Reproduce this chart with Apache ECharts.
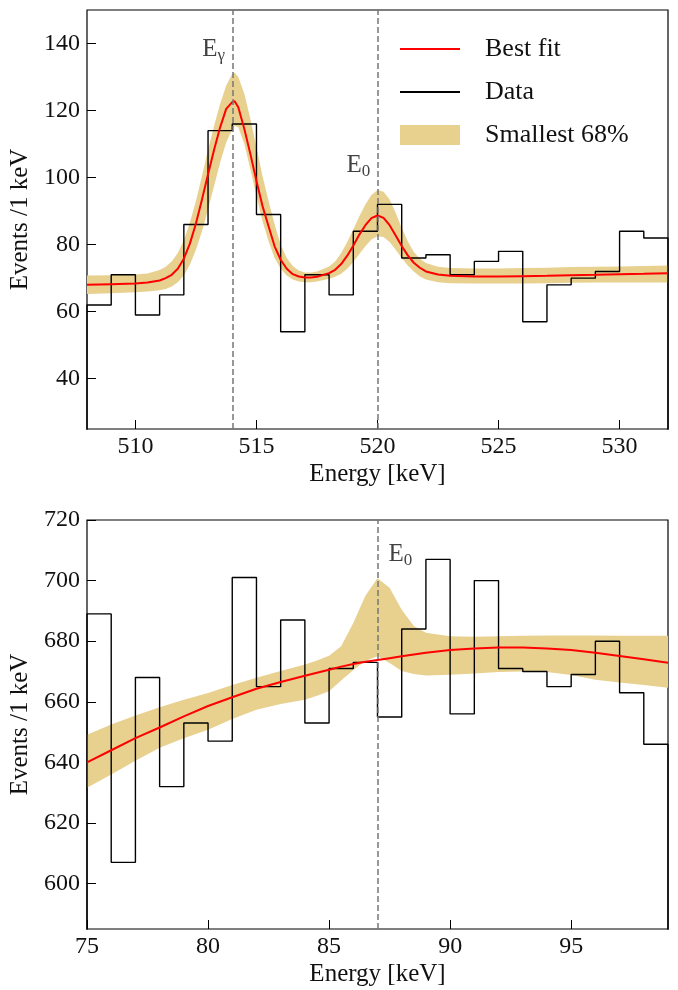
<!DOCTYPE html>
<html><head><meta charset="utf-8">
<script src="https://cdn.jsdelivr.net/npm/echarts@6/dist/echarts.min.js"></script>
<style>html,body{margin:0;padding:0;background:#fff}#c{width:678px;height:990px}</style>
</head><body><div id="c"></div>
<script>
// ---------- Top panel (508-532 keV) ----------
const topBinStart = 508;
const topCounts = [62,71,59,65,86,114,116,89,54,71,65,84,92,76,77,71,75,78,57,68,70,72,84,82];
const topFitE  = [508,509,510,510.5,511,511.25,511.5,511.75,512,512.25,512.5,512.75,513,513.25,513.5,513.75,514,514.1,514.25,514.5,514.75,515,515.25,515.5,515.75,516,516.25,516.5,516.75,517,517.25,517.5,518,518.25,518.5,518.75,519,519.25,519.5,519.75,520,520.25,520.5,520.75,521,521.25,521.5,521.75,522,522.5,523,524,525,526,527,528,529,530,531,532];
const topFitY  = [68.0,68.2,68.4,68.7,69.3,70.0,71.0,72.8,75.8,80.3,86.3,93.5,101.0,108.3,115.0,120.5,122.5,122.8,121.0,114.5,107.0,99.0,91.5,85.5,79.5,75.5,72.8,71.2,70.5,70.2,70.2,70.4,71.5,72.5,74.2,76.7,79.7,83.0,85.8,87.9,88.7,88.0,85.8,82.7,79.6,76.8,74.6,73.1,72.0,71.1,70.7,70.5,70.5,70.6,70.7,70.9,71.0,71.2,71.3,71.5];
const topBandLo= [65.3,65.5,65.8,66.0,66.4,66.8,67.5,68.8,70.8,74.0,78.5,84.0,90.5,97.5,104.5,110.5,114.5,115.5,115.0,110.0,102.5,94.5,87.0,81.0,76.0,72.8,70.8,69.6,69.0,68.8,68.8,69.0,69.8,70.4,71.3,72.8,74.8,77.2,79.5,81.5,82.5,82.3,80.8,78.5,76.0,73.8,72.0,70.5,69.6,68.8,68.5,68.4,68.4,68.4,68.5,68.6,68.7,68.7,68.7,68.7];
const topBandHi= [70.8,70.9,71.1,71.4,72.4,73.4,75.0,77.5,81.3,86.5,93.0,100.5,108.3,115.5,122.0,127.5,131.0,131.3,130.0,125.0,117.5,109.0,100.5,93.0,86.0,80.0,76.0,73.6,72.3,71.7,71.7,72.0,73.5,75.0,77.5,80.8,84.5,88.5,92.0,94.8,96.3,95.8,93.5,89.5,85.0,81.0,77.8,75.8,74.5,73.4,73.0,72.9,72.9,73.0,73.1,73.3,73.4,73.5,73.6,73.8];
const topLines = [514, 520];
const topXTicks = [510,515,520,525,530];
const topYTicks = [40,60,80,100,120,140];

// ---------- Bottom panel (75-99 keV) ----------
const botBinStart = 75;
const botCounts = [689,607,668,632,653,647,701,665,687,653,671,673,655,684,707,656,700,671,670,665,669,680,663,646];
const botFitE  = [75,76,77,78,79,80,81,82,83,84,84.5,85,85.5,86,86.5,87,87.5,88,88.5,89,90,91,92,93,94,95,96,97,98,99];
const botFitY  = [640.0,644.0,648.0,651.5,655.2,658.6,661.5,664.3,666.5,668.6,669.6,670.6,671.6,672.5,673.2,673.8,674.4,675.0,675.6,676.2,677.1,677.6,677.9,677.9,677.6,677.1,676.2,675.1,674.0,672.9];
const botBandLo= [631.6,636.0,640.5,644.8,648.0,650.8,654.3,657.4,659.3,660.7,662.0,663.5,667.0,670.5,673.5,675.0,672.8,670.2,669.2,668.7,668.9,669.3,669.8,670.0,669.8,668.8,667.3,666.4,665.5,664.6];
const botBandHi= [649.1,652.5,655.5,658.2,660.7,662.9,665.5,667.9,670.2,672.3,673.6,675.2,678.3,686.0,695.0,700.8,697.6,690.4,685.0,682.8,681.6,681.5,681.6,681.8,681.9,681.9,681.9,681.8,681.8,681.8];
const botLines = [87];
const botXTicks = [75,80,85,90,95];
const botYTicks = [600,620,640,660,680,700,720];

// ---------- Annotations ----------
const topLabels = [{x:513.7, y:138.3, main:'E', sub:'γ', pos:'left'},{x:519.7, y:103.5, main:'E', sub:'0', pos:'left'}];
const botLabels = [{x:87.45, y:708.6, main:'E', sub:'0', pos:'right'}];

const FONT = 'Liberation Serif';
const BAND = '#E8D08F';

function stepData(start, counts){
  const d=[[start,0]];
  counts.forEach((c,i)=>d.push([start+i,c]));
  d.push([start+counts.length, counts[counts.length-1]]);
  d.push([start+counts.length, 0]);
  return d;
}
function zip(a,b){return a.map((v,i)=>[v,b[i]]);}

function bandSeries(gi, E, lo, hi){
  return {
    type:'custom', name:'Smallest 68%', xAxisIndex:gi, yAxisIndex:gi, z:1,
    itemStyle:{color:BAND}, silent:true, clip:true,
    data:[0],
    renderItem:function(params, api){
      const pts=[];
      for(let i=0;i<E.length;i++) pts.push(api.coord([E[i],hi[i]]));
      for(let i=E.length-1;i>=0;i--) pts.push(api.coord([E[i],lo[i]]));
      return {type:'polygon', shape:{points:pts}, style:{fill:BAND}};
    }
  };
}
function labelSeries(gi, labs){
  return {
    type:'scatter', xAxisIndex:gi, yAxisIndex:gi, symbolSize:0, silent:true, z:5,
    data: labs.map(l=>({value:[l.x,l.y], label:{show:true, position:l.pos, distance:0,
      formatter:'{a|'+l.main+'}{b|'+l.sub+'}',
      rich:{a:{fontFamily:FONT,fontSize:25,color:'#111'},b:{fontFamily:FONT,fontSize:17,color:'#111',padding:[12,0,0,0]}}}}))
  };
}
function xAxis(gi,min,max,ticks){
  return {type:'value', gridIndex:gi, min:min, max:max,
    name:'Energy [keV]', nameLocation:'middle', nameGap:33,
    nameTextStyle:{fontFamily:FONT,fontSize:25,color:'#111'},
    axisLine:{show:false},
    axisTick:{show:true, inside:true, length:9, customValues:ticks, lineStyle:{color:'#000',width:1}},
    axisLabel:{customValues:ticks, fontFamily:FONT, fontSize:24, color:'#111', margin:6},
    splitLine:{show:false}};
}
function yAxis(gi,min,max,ticks){
  return {type:'value', gridIndex:gi, min:min, max:max,
    name:'Events /1 keV', nameLocation:'middle', nameGap:50,
    nameTextStyle:{fontFamily:FONT,fontSize:25,color:'#111'},
    axisLine:{show:false},
    axisTick:{show:true, inside:true, length:9, customValues:ticks, lineStyle:{color:'#000',width:1}},
    axisLabel:{customValues:ticks, fontFamily:FONT, fontSize:24, color:'#111', margin:7},
    splitLine:{show:false}};
}
function dashLines(vals){
  return {symbol:'none', silent:true, animation:false, label:{show:false},
    lineStyle:{color:'#777', type:[6,3], width:1.5},
    data: vals.map(v=>({xAxis:v}))};
}

const chart = echarts.init(document.getElementById('c'), null, {renderer:'canvas'});
chart.setOption({
  animation:false,
  backgroundColor:'#fff',
  grid:[
    {left:87, top:10, width:581, height:419, show:true, borderColor:'#000', borderWidth:1.2, backgroundColor:'transparent'},
    {left:87, top:520, width:581, height:409, show:true, borderColor:'#000', borderWidth:1.2, backgroundColor:'transparent'}
  ],
  xAxis:[xAxis(0,508,532,topXTicks), xAxis(1,75,99,botXTicks)],
  yAxis:[yAxis(0,25,150,topYTicks), yAxis(1,585,720,botYTicks)],
  legend:{
    orient:'vertical', left:395, top:31, itemWidth:60, itemHeight:20, itemGap:17,
    selectedMode:false, symbolKeepAspect:true,
    textStyle:{fontFamily:FONT, fontSize:26, color:'#111', lineHeight:20, padding:[0,0,0,20]},
    data:[
      {name:'Best fit', icon:'path://M0,0L60,0L60,2L0,2Z', itemStyle:{color:'#ff0000'}},
      {name:'Data', icon:'path://M0,0L60,0L60,2L0,2Z', itemStyle:{color:'#000'}},
      {name:'Smallest 68%', icon:'rect', itemStyle:{color:BAND}}
    ]
  },
  series:[
    bandSeries(0, topFitE, topBandLo, topBandHi),
    {type:'line', name:'Data', xAxisIndex:0, yAxisIndex:0, step:'end', symbol:'none', z:3,
     data:stepData(topBinStart, topCounts), lineStyle:{color:'#000', width:1.4}, itemStyle:{color:'#000'}},
    {type:'line', name:'Best fit', xAxisIndex:0, yAxisIndex:0, symbol:'none', z:4,
     data:zip(topFitE, topFitY), lineStyle:{color:'#ff0000', width:2}, itemStyle:{color:'#ff0000'},
     markLine:dashLines(topLines)},
    labelSeries(0, topLabels),

    bandSeries(1, botFitE, botBandLo, botBandHi),
    {type:'line', name:'Data', xAxisIndex:1, yAxisIndex:1, step:'end', symbol:'none', z:3,
     data:stepData(botBinStart, botCounts), lineStyle:{color:'#000', width:1.4}, itemStyle:{color:'#000'}},
    {type:'line', name:'Best fit', xAxisIndex:1, yAxisIndex:1, symbol:'none', z:4,
     data:zip(botFitE, botFitY), lineStyle:{color:'#ff0000', width:2}, itemStyle:{color:'#ff0000'},
     markLine:dashLines(botLines)},
    labelSeries(1, botLabels)
  ]
});
</script></body></html>
